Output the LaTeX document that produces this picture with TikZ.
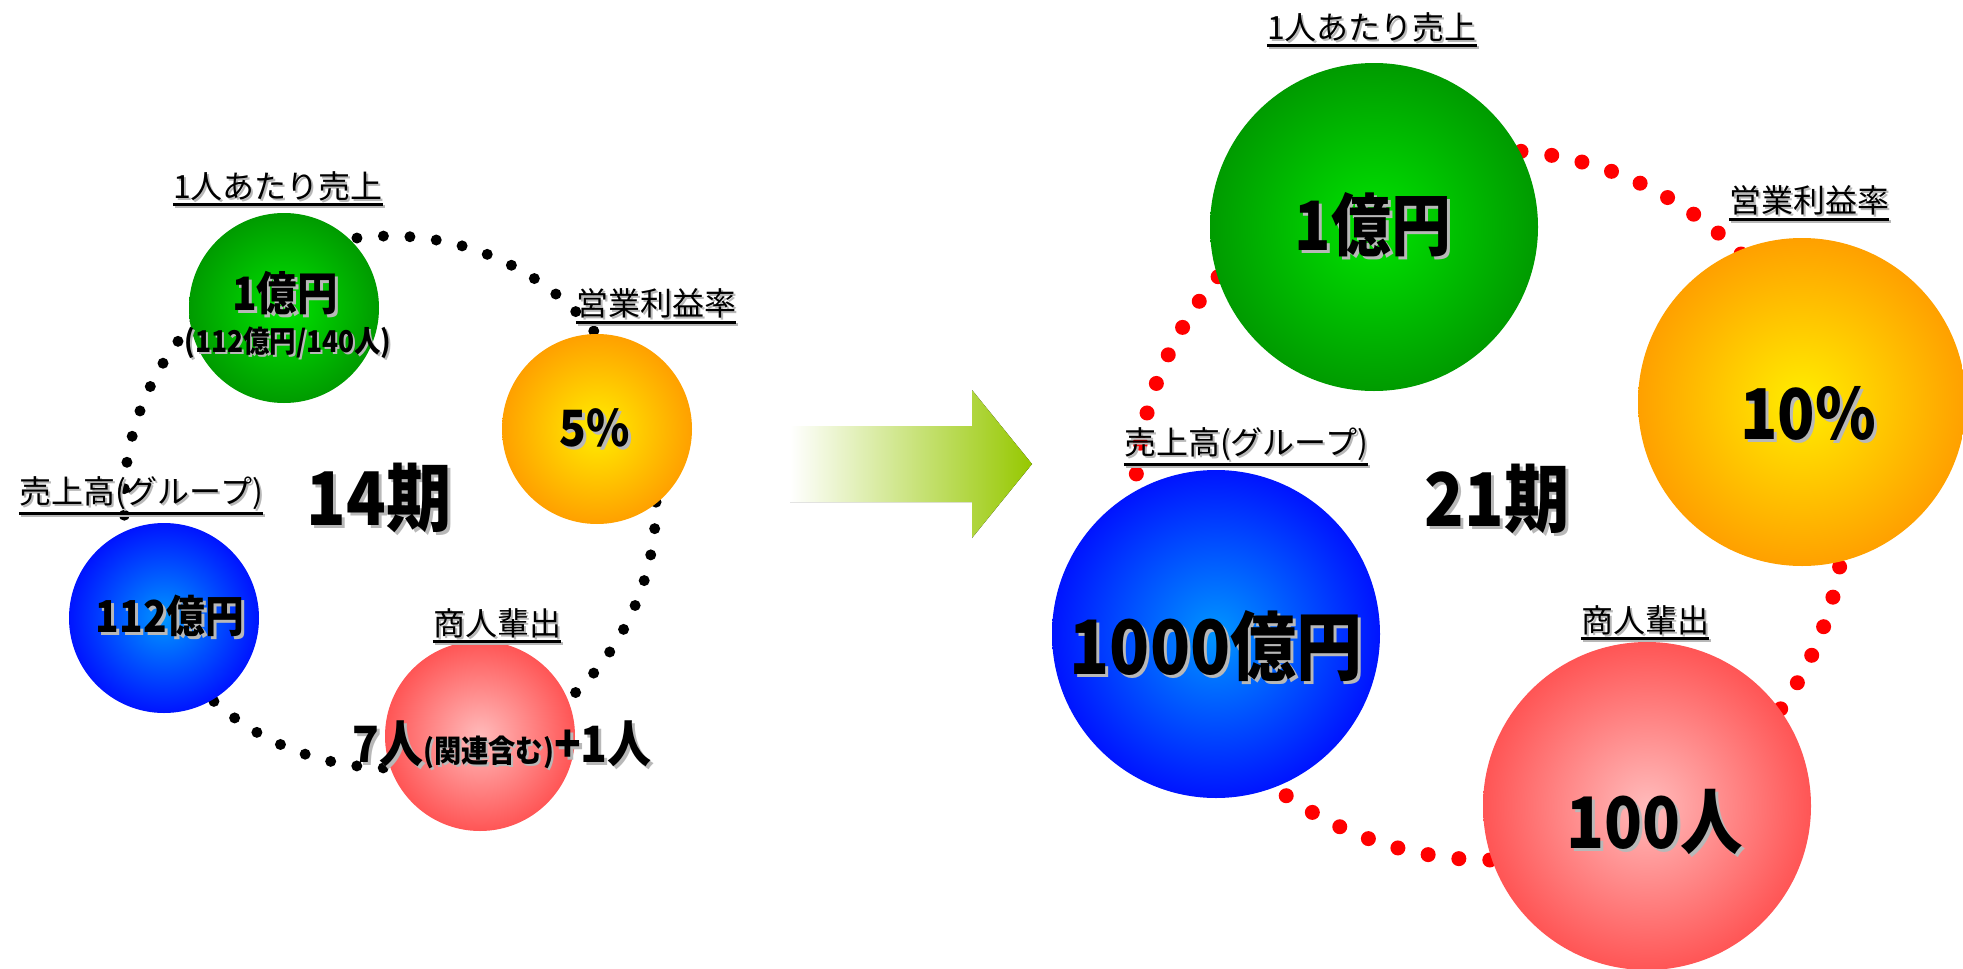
\documentclass[tikz,border=0pt]{standalone}
\usepackage{fontspec}
\usepackage{tikz}
\usetikzlibrary{positioning, arrows.meta}
\newfontfamily\jp{Noto Sans CJK JP}
\newfontfamily\jpheavy{Noto Sans CJK JP Black}[FakeStretch = 0.88]
% text with a grey drop shadow
\newcommand\shtext[2][3pt]{\leavevmode\rlap{\kern#1\raisebox{-#1}{\textcolor{black!28}{#2}}}#2}
\definecolor{ballgreenin}{RGB}{0,228,0}
\definecolor{ballgreenout}{RGB}{0,155,0}
\definecolor{ballorangein}{RGB}{255,238,0}
\definecolor{ballorangeout}{RGB}{255,160,0}
\definecolor{ballbluein}{RGB}{0,150,255}
\definecolor{ballblueout}{RGB}{0,20,255}
\definecolor{ballredin}{RGB}{255,187,187}
\definecolor{ballredout}{RGB}{255,85,85}
\definecolor{arrowgreen}{RGB}{150,200,0}
\tikzset{
  ball/.style = {
    shape = circle,
    minimum size = 190pt,
    inner sep = 0pt,
    shading = radial,
  },
  bigball/.style = {ball, minimum size = 328pt},
  greenball/.style = {inner color = ballgreenin, outer color = ballgreenout},
  orangeball/.style = {inner color = ballorangein, outer color = ballorangeout},
  blueball/.style = {inner color = ballbluein, outer color = ballblueout},
  redball/.style = {inner color = ballredin, outer color = ballredout},
}
\tikzset{
  tag/.style = {
    font = \jp\fontsize{32}{32}\selectfont,
    inner sep = 0pt,
  },
  val/.style = {
    font = \jpheavy\fontsize{#1}{#1}\selectfont,
    inner sep = 0pt,
  },
  uline/.style = {draw = black, line width = 3pt},
  ulshadow/.style = {draw = black!28, line width = 3pt},
  dotring/.style = {
    line cap = round, line width = 11pt,
    dash pattern = on 0pt off 26.53pt,
  },
  reddotring/.style = {
    draw = red, line cap = round, line width = 15pt,
    dash pattern = on 0pt off 30.98pt,
  },
}

\begin{document}
\begin{tikzpicture}[x = 1pt, y = -1pt]
        \useasboundingbox (0,0) rectangle (1963,969);
        % 14期
        \coordinate (ring14) at (390,502);
        \draw[dotring] (ring14) circle[radius = 266pt];
        \node[ball, greenball](g14) at (284,308){};
        \node[ball, orangeball](o14) at (597,429){};
        \node[ball, blueball](b14) at (164,618){};
        \node[ball, redball](r14) at (480,736){};
        \node[val = 74](p14) at (379,499){\shtext{14期}};
        \node[val = 46](g14v) at (285,295){\shtext{1億円}};
        \node[val = 30](g14s) at (288,344){\shtext[2pt]{(112億円/140人)}};
        \node[val = 50](o14v) at (595,429){\shtext{5\%}};
        \node[val = 44](b14v) at (170,617){\shtext{112億円}};
        \node[val = 50](r14v) at (502,746){\shtext{7人}\shtext[2pt]{{\fontsize{31}{31}\selectfont(関連含む)}}\shtext{+1人}};
        \node[tag](g14t) at (278,187){\shtext[2pt]{1人あたり売上}};
        \node[tag](o14t) at (656,304){\shtext[2pt]{営業利益率}};
        \node[tag](b14t) at (141,494){\shtext[2pt]{売上高(グループ)}};
        \node[tag](r14t) at (497,624){\shtext[2pt]{商人輩出}};
        % arrow
        \fill[left color = white, right color = arrowgreen]
          (790,426) -- (972,426) -- (972,390) -- (1032,464) -- (972,538) -- (972,502) -- (790,502) -- cycle;
        % 21期
        \coordinate (ring21) at (1490,505);
        \draw[reddotring] (ring21) circle[radius = 355pt];
        \node[bigball, greenball](g21) at (1374,227){};
        \node[bigball, orangeball](o21) at (1802,402){};
        \node[bigball, blueball](b21) at (1216,634){};
        \node[bigball, redball](r21) at (1647,806){};
        \node[val = 74](p21) at (1497,500){\shtext{21期}};
        \node[val = 68](g21v) at (1373,226){\shtext{1億円}};
        \node[val = 70](o21v) at (1808,415){\shtext{10\%}};
        \node[val = 75](b21v) at (1216,648){\shtext{1000億円}};
        \node[val = 71](r21v) at (1655,823){\shtext{100人}};
        \node[tag](g21t) at (1372,28){\shtext[2pt]{1人あたり売上}};
        \node[tag](o21t) at (1809,201){\shtext[2pt]{営業利益率}};
        \node[tag](b21t) at (1246,445){\shtext[2pt]{売上高(グループ)}};
        \node[tag](r21t) at (1645,621){\shtext[2pt]{商人輩出}};
        % underlines
        \foreach \t in {g14t, o14t, b14t, r14t, g21t, o21t, b21t, r21t} {
          \draw[ulshadow]([shift = {(2pt,-4pt)}]\t.south west) -- ([shift = {(2pt,-4pt)}]\t.south east);
          \draw[uline]([yshift = -2pt]\t.south west) -- ([yshift = -2pt]\t.south east);
        }
    \end{tikzpicture}
\end{document}
